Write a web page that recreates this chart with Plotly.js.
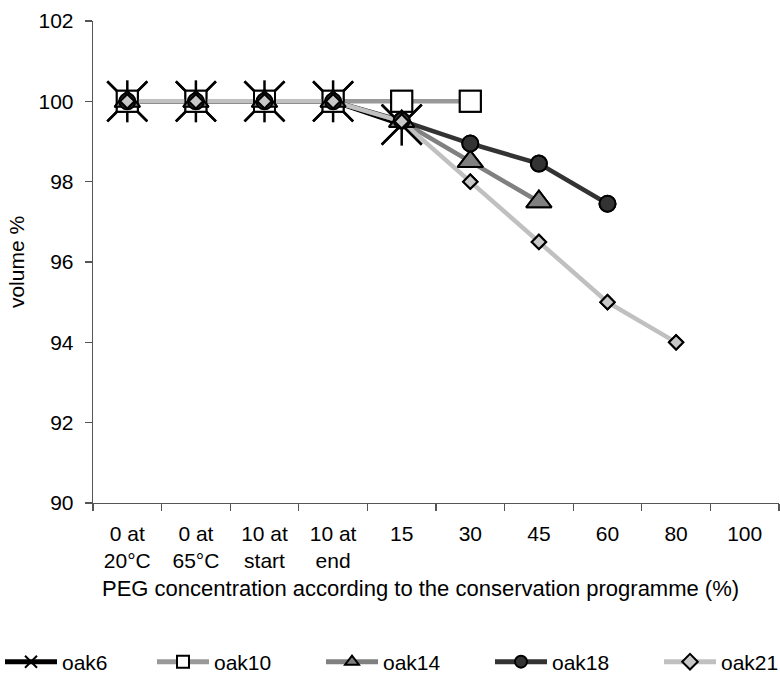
<!DOCTYPE html>
<html>
<head>
<meta charset="utf-8">
<script src="https://cdn.plot.ly/plotly-3.0.1.min.js"></script>
<style>html,body{margin:0;padding:0;background:#fff;}#chart{width:780px;height:679px;}</style>
</head>
<body>
<div id="chart"></div>
<script>
const categories = ['0 at<br>20°C', '0 at<br>65°C', '10 at<br>start', '10 at<br>end', '15', '30', '45', '60', '80', '100'];
const oak6 = [100, 100, 100, 100, 99.42];
const oak10 = [100, 100, 100, 100, 100, 100];
const oak14 = [100, 100, 100, 100, 99.5, 98.5, 97.5];
const oak18 = [100, 100, 100, 100, 99.52, 98.95, 98.45, 97.45];
const oak21 = [100, 100, 100, 100, 99.5, 98.0, 96.5, 95.0, 94.0];
const xTitle = 'PEG concentration according to the conservation programme (%)';
const yTitle = 'volume %';

const FONT = 'Liberation Sans, Arial, sans-serif';

const series = [
  {name: 'oak6', y: oak6, line: '#000000', sym: 'x-thin-open', size: 40, fill: '#000000', lw: 2.5, lg: 'legend'},
  {name: 'oak10', y: oak10, line: '#999999', sym: 'square', size: 21, fill: '#ffffff', lw: 2, lg: 'legend2'},
  {name: 'oak14', y: oak14, line: '#808080', sym: 'triangle-up', size: 22, fill: '#808080', lw: 2, lg: 'legend3'},
  {name: 'oak18', y: oak18, line: '#333333', sym: 'circle', size: 16, fill: '#333333', lw: 2, lg: 'legend4'},
  {name: 'oak21', y: oak21, line: '#c0c0c0', sym: 'diamond', size: 11, fill: '#c8c8c8', lw: 2, lg: 'legend5'}
];
const legendStarts = [0, 157, 326, 495, 664];

const traces = [];
// lines (with legend entries), drawn below all markers
series.forEach(s => {
  traces.push({
    type: 'scatter', mode: 'lines+markers', name: s.name, legend: s.lg,
    x: categories.slice(0, s.y.length), y: s.y,
    line: {color: s.line, width: 4.5},
    marker: {symbol: s.sym, size: s.size, color: s.fill, line: {color: '#000', width: s.lw}},
    cliponaxis: false
  });
});
// markers redrawn on top of every line
series.forEach(s => {
  traces.push({
    type: 'scatter', mode: 'markers', name: s.name, showlegend: false,
    x: categories.slice(0, s.y.length), y: s.y,
    marker: {symbol: s.sym, size: s.size, color: s.fill, line: {color: '#000', width: s.lw}},
    cliponaxis: false
  });
  if (s.name === 'oak6') {
    traces.push({
      type: 'scatter', mode: 'markers', name: s.name, showlegend: false,
      x: categories.slice(0, s.y.length), y: s.y,
      marker: {symbol: 'line-ns-open', size: 30, color: '#000', line: {color: '#000', width: 2.5}},
      cliponaxis: false
    });
  }
});

const layout = {
  width: 780, height: 679,
  margin: {l: 93, r: 1, t: 21, b: 176},
  paper_bgcolor: '#fff', plot_bgcolor: '#fff',
  font: {family: FONT, size: 21, color: '#000'},
  showlegend: true,
  xaxis: {
    type: 'category', categoryorder: 'array', categoryarray: categories,
    range: [-0.5, 9.5], fixedrange: true,
    showgrid: false, zeroline: false,
    showline: true, linecolor: '#555', linewidth: 1.3,
    ticks: 'outside', tickson: 'boundaries', ticklen: 7, tickcolor: '#555', tickwidth: 1.3,
    ticklabelstandoff: 11,
    tickfont: {family: FONT, size: 21, color: '#000'}
  },
  yaxis: {
    range: [90, 102], dtick: 2, tick0: 90,
    showgrid: false, zeroline: false,
    showline: true, linecolor: '#555', linewidth: 1.3,
    ticks: 'outside', ticklen: 7, tickcolor: '#555', tickwidth: 1.3,
    ticklabelstandoff: 7,
    tickfont: {family: FONT, size: 21, color: '#000'},
    title: {text: yTitle, font: {family: FONT, size: 21, color: '#000'}, standoff: 8}
  },
  annotations: [{
    text: xTitle, showarrow: false,
    xref: 'paper', yref: 'paper', x: 0.478, xanchor: 'center',
    y: -0.178, yanchor: 'middle',
    font: {family: FONT, size: 22, color: '#000'}
  }]
};
series.forEach((s, i) => {
  layout[s.lg] = {
    orientation: 'h', xref: 'container', yref: 'container',
    x: (legendStarts[i] - 5) / 780, xanchor: 'left', y: 0.025, yanchor: 'middle',
    itemsizing: 'constant', itemwidth: 52,
    font: {family: FONT, size: 21, color: '#000'},
    bgcolor: 'rgba(0,0,0,0)'
  };
});

Plotly.newPlot('chart', traces, layout, {displayModeBar: false, staticPlot: true});
</script>
</body>
</html>
